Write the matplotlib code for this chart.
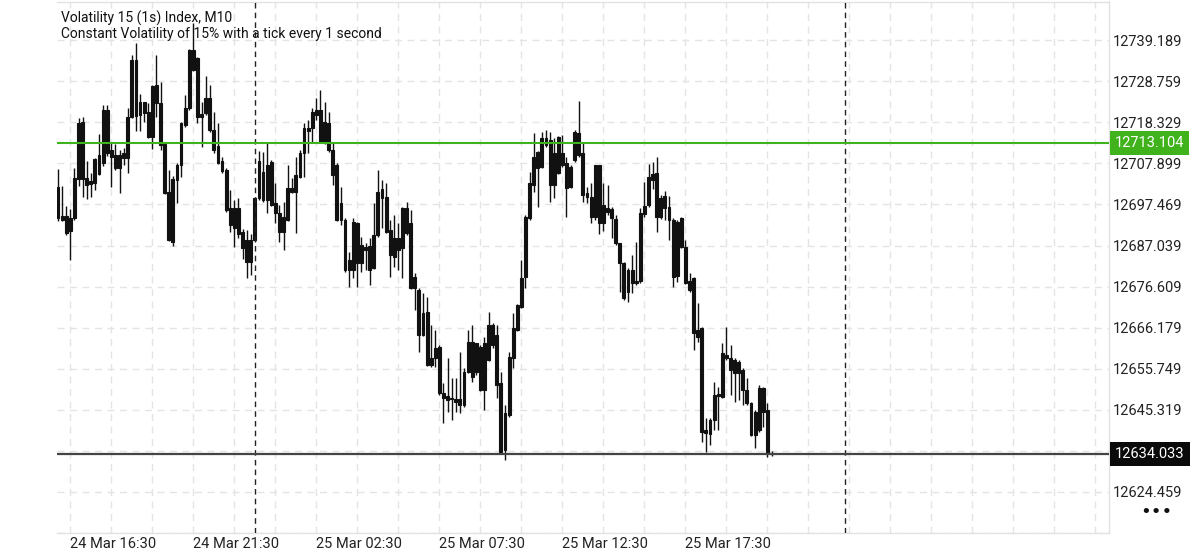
import matplotlib.pyplot as plt
import numpy as np
import pandas as pd

plt.rcParams['font.family'] = ['Roboto', 'DejaVu Sans']

# M10 candles, 24 Mar 16:00 onwards
opens = [
    12701.91, 12693.52, 12694.54, 12690.73, 12694.03, 12703.95, 12718.44, 12704.20, 12702.68, 12702.93,
    12705.22, 12708.02, 12721.49, 12711.32, 12710.05, 12706.74, 12710.56, 12709.29, 12719.71, 12734.20,
    12720.22, 12723.53, 12720.98, 12714.63, 12727.85, 12723.27, 12712.85, 12700.64, 12687.93, 12703.69,
    12707.51, 12717.68, 12722.00, 12736.75, 12734.71, 12719.71, 12720.73, 12724.54, 12716.41, 12712.34,
    12708.52, 12706.24, 12696.57, 12691.49, 12696.57, 12690.47, 12688.44, 12682.84, 12688.44, 12699.12,
    12705.73, 12698.61, 12708.27, 12697.85, 12695.30, 12690.47, 12693.52, 12701.66, 12700.64, 12704.46,
    12710.56, 12716.91, 12716.91, 12720.22, 12721.49, 12713.36, 12718.19, 12711.32, 12707.51, 12693.52,
    12693.52, 12680.81, 12680.81, 12692.76, 12682.59, 12686.66, 12686.91, 12681.32, 12689.71, 12701.40,
    12699.37, 12690.98, 12684.11, 12688.95, 12686.40, 12696.57, 12692.76, 12676.23, 12675.72, 12664.28,
    12670.13, 12656.66, 12658.43, 12661.23, 12649.54, 12648.77, 12648.01, 12648.01, 12648.01, 12646.48,
    12654.88, 12662.50, 12654.88, 12661.23, 12650.30, 12657.93, 12666.83, 12664.28, 12652.08, 12635.04,
    12643.94, 12658.43, 12665.55, 12671.40, 12679.03, 12694.03, 12702.42, 12710.81, 12707.00, 12714.37,
    12713.86, 12702.42, 12705.47, 12710.56, 12708.02, 12701.91, 12708.78, 12715.64, 12710.56, 12700.39,
    12699.37, 12694.29, 12707.51, 12692.76, 12696.57, 12696.32, 12693.78, 12687.67, 12682.59, 12675.22,
    12680.81, 12677.50, 12678.01, 12695.05, 12697.34, 12703.69, 12705.47, 12694.29, 12699.63, 12696.83,
    12693.52, 12679.28, 12694.03, 12686.66, 12678.01, 12678.78, 12665.55, 12666.06, 12640.13, 12639.11,
    12642.67, 12648.77, 12648.52, 12659.20, 12658.43, 12654.62, 12657.42, 12655.38, 12650.30, 12646.99,
    12644.70, 12640.13, 12650.81, 12645.21, 12634.28,
]
highs = [
    12706.49, 12702.17, 12697.08, 12696.32, 12706.74, 12719.46, 12719.71, 12708.52, 12705.47, 12709.29,
    12715.39, 12722.76, 12722.76, 12713.36, 12712.85, 12711.32, 12711.83, 12722.00, 12735.48, 12738.53,
    12725.56, 12723.53, 12723.27, 12727.85, 12735.48, 12728.61, 12713.36, 12706.24, 12704.71, 12708.02,
    12718.44, 12725.31, 12737.00, 12743.61, 12734.97, 12723.53, 12730.14, 12727.85, 12720.98, 12718.19,
    12709.54, 12706.74, 12701.15, 12698.61, 12699.12, 12691.23, 12690.98, 12689.96, 12699.37, 12711.07,
    12710.81, 12713.10, 12708.78, 12702.93, 12697.34, 12698.10, 12707.51, 12704.20, 12709.54, 12711.32,
    12718.19, 12718.95, 12722.00, 12724.54, 12726.58, 12723.53, 12720.98, 12713.10, 12708.02, 12701.91,
    12694.03, 12685.39, 12694.03, 12693.01, 12689.20, 12687.67, 12688.95, 12697.85, 12706.24, 12703.69,
    12702.93, 12693.52, 12694.79, 12692.76, 12696.83, 12698.10, 12696.07, 12680.05, 12676.23, 12674.96,
    12673.94, 12666.83, 12665.55, 12661.74, 12652.08, 12658.43, 12653.35, 12653.35, 12659.96, 12655.89,
    12665.55, 12666.83, 12662.25, 12661.74, 12663.77, 12670.13, 12667.33, 12666.83, 12654.88, 12646.48,
    12659.96, 12669.88, 12672.16, 12683.35, 12694.79, 12705.73, 12715.64, 12711.07, 12715.90, 12716.41,
    12715.90, 12714.37, 12714.88, 12715.13, 12709.54, 12707.51, 12716.41, 12723.78, 12713.36, 12701.91,
    12702.93, 12707.60, 12707.60, 12702.93, 12702.42, 12696.83, 12694.79, 12687.80, 12682.84, 12681.32,
    12684.62, 12687.93, 12696.57, 12703.18, 12707.76, 12708.27, 12709.54, 12699.88, 12700.90, 12699.63,
    12694.03, 12693.52, 12694.20, 12688.44, 12680.05, 12679.03, 12672.42, 12666.32, 12643.18, 12643.18,
    12652.33, 12651.06, 12662.25, 12666.32, 12661.74, 12658.43, 12657.93, 12655.89, 12653.35, 12647.25,
    12645.21, 12651.57, 12651.06, 12646.99, 12634.79,
]
lows = [
    12693.27, 12693.27, 12689.71, 12683.35, 12693.52, 12702.17, 12699.37, 12698.86, 12699.37, 12701.15,
    12704.96, 12707.25, 12709.80, 12701.91, 12706.24, 12700.39, 12707.51, 12705.47, 12719.46, 12716.15,
    12716.15, 12718.44, 12714.37, 12711.58, 12719.71, 12711.32, 12700.20, 12688.18, 12686.91, 12697.85,
    12704.46, 12717.17, 12721.49, 12731.41, 12718.19, 12712.08, 12720.22, 12715.90, 12710.56, 12707.76,
    12705.47, 12695.56, 12690.47, 12686.66, 12688.95, 12683.61, 12678.78, 12679.54, 12687.93, 12698.61,
    12698.10, 12695.30, 12697.08, 12692.76, 12687.93, 12685.89, 12693.27, 12700.39, 12690.22, 12704.20,
    12704.46, 12710.56, 12713.36, 12718.95, 12713.10, 12712.85, 12710.81, 12702.42, 12693.27, 12692.25,
    12680.30, 12676.49, 12678.78, 12676.49, 12680.30, 12680.81, 12677.00, 12681.06, 12689.20, 12691.49,
    12690.22, 12679.03, 12681.57, 12680.81, 12678.78, 12689.71, 12675.98, 12670.64, 12659.96, 12664.03,
    12656.40, 12656.15, 12656.15, 12649.03, 12641.91, 12644.70, 12642.67, 12644.70, 12644.45, 12645.98,
    12654.62, 12652.33, 12654.11, 12650.04, 12645.21, 12657.67, 12660.98, 12648.26, 12634.28, 12632.50,
    12643.43, 12655.89, 12665.30, 12671.15, 12676.23, 12693.52, 12700.64, 12696.83, 12706.74, 12712.08,
    12698.10, 12699.12, 12705.22, 12707.00, 12694.29, 12701.66, 12708.27, 12709.54, 12698.10, 12697.85,
    12692.76, 12693.52, 12689.96, 12690.73, 12694.79, 12688.95, 12687.17, 12675.22, 12673.18, 12672.67,
    12674.96, 12677.00, 12677.50, 12694.29, 12696.83, 12701.40, 12690.47, 12693.78, 12693.52, 12688.44,
    12676.49, 12677.76, 12686.40, 12677.25, 12675.22, 12660.47, 12662.50, 12637.08, 12634.53, 12636.31,
    12640.13, 12640.13, 12648.26, 12657.93, 12649.03, 12647.25, 12647.76, 12646.48, 12646.48, 12638.60,
    12635.55, 12639.62, 12640.89, 12633.26, 12633.52,
]
closes = [
    12694.03, 12694.54, 12690.22, 12694.03, 12704.20, 12718.19, 12703.95, 12702.42, 12703.44, 12709.03,
    12710.05, 12721.49, 12710.56, 12709.54, 12706.74, 12710.05, 12709.29, 12719.71, 12734.20, 12719.97,
    12723.53, 12720.73, 12714.63, 12727.59, 12723.27, 12712.59, 12700.39, 12688.44, 12703.95, 12707.51,
    12718.19, 12722.00, 12736.75, 12731.66, 12719.71, 12720.47, 12724.54, 12716.41, 12711.32, 12708.02,
    12705.98, 12696.07, 12692.25, 12696.57, 12689.96, 12686.40, 12682.84, 12688.44, 12699.12, 12708.52,
    12698.61, 12707.51, 12697.34, 12695.30, 12690.47, 12694.29, 12701.66, 12700.64, 12704.96, 12710.56,
    12716.91, 12716.15, 12720.98, 12721.49, 12713.36, 12718.44, 12711.32, 12704.96, 12693.52, 12697.85,
    12680.81, 12683.35, 12693.01, 12682.59, 12687.17, 12685.89, 12680.81, 12689.71, 12700.64, 12699.12,
    12690.47, 12684.62, 12688.95, 12685.89, 12696.57, 12690.22, 12676.23, 12679.03, 12664.28, 12669.88,
    12656.66, 12658.43, 12660.98, 12649.54, 12648.26, 12647.76, 12648.26, 12647.25, 12646.48, 12654.88,
    12662.50, 12653.60, 12662.25, 12650.30, 12662.25, 12666.83, 12661.74, 12651.57, 12634.53, 12644.45,
    12658.69, 12666.06, 12671.91, 12678.78, 12694.29, 12702.93, 12709.54, 12706.74, 12714.37, 12712.59,
    12702.42, 12710.56, 12714.63, 12707.51, 12701.66, 12707.00, 12715.90, 12710.05, 12699.88, 12699.37,
    12694.29, 12707.51, 12692.76, 12697.34, 12695.56, 12694.03, 12687.67, 12682.59, 12673.69, 12680.81,
    12677.50, 12678.01, 12695.30, 12697.08, 12704.46, 12705.22, 12694.29, 12699.12, 12696.57, 12693.52,
    12679.03, 12693.01, 12686.66, 12677.50, 12675.72, 12664.79, 12663.77, 12639.62, 12639.37, 12642.67,
    12649.03, 12649.28, 12659.71, 12658.43, 12655.38, 12657.93, 12654.62, 12650.30, 12646.99, 12638.86,
    12638.86, 12650.81, 12644.70, 12634.28, 12634.033,
]

level_price = 12713.104
price_ticks = [12624.459, 12634.889, 12645.319, 12655.749, 12666.179, 12676.609,
               12687.039, 12697.469, 12707.899, 12718.329, 12728.759, 12739.189]
title_lines = ["Volatility 15 (1s) Index, M10",
               "Constant Volatility of 15% with a tick every 1 second"]

times = pd.date_range("2024-03-24 16:00", periods=len(closes), freq="10min")
idx = np.arange(len(closes))

candle_col = '#111111'
grid_col = '#e4e4e4'
green = '#3fb21c'

fig = plt.figure(figsize=(12, 5.54), dpi=100)
ax = fig.add_axes([57 / 1200, 21 / 554, 1052 / 1200, 531.5 / 554])

# grid
step = price_ticks[1] - price_ticks[0]
for y in np.arange(price_ticks[0] - step, price_ticks[-1] + 1.5 * step, step):
    ax.axhline(y, color=grid_col, lw=1, ls=(0, (5, 4)), zorder=0)
x_grid = np.arange(3, 257, 10)
for x in x_grid:
    ax.axvline(x, color=grid_col, lw=1, ls=(0, (5, 4)), zorder=0)

# candles
o = np.array(opens)
c = np.array(closes)
ax.vlines(idx, lows, highs, color=candle_col, lw=1.0, zorder=2)
ax.bar(idx, np.abs(c - o), bottom=np.minimum(o, c), width=0.7,
       color=candle_col, edgecolor=candle_col, linewidth=0.8, zorder=2)

# day separators
t0 = times[0]
for day in pd.date_range(times[0].normalize() + pd.Timedelta(days=1), periods=2, freq='D'):
    pos = (day - t0) / pd.Timedelta(minutes=10)
    ax.axvline(pos, color='#222222', lw=1, ls=(0, (4, 3)), zorder=3)

# price lines
ax.axhline(level_price, color=green, lw=1.5, zorder=4)
ax.axhline(closes[-1], color='#444444', lw=1.6, zorder=4)

ax.set_xlim(-0.25, 256.3)
ax.set_ylim(12613.94, 12613.94 + 531.5 / 3.933)

# y axis on the right
ax.yaxis.tick_right()
ax.set_yticks(price_ticks)
ax.set_yticklabels(['' if abs(v - closes[-1]) < 3 else f'{v:.3f}' for v in price_ticks])
ax.tick_params(axis='y', length=0, pad=3, labelsize=10.5, labelcolor='#222222')

# x axis labels every 30 bars, only where bars exist
xt = [i for i in range(3, len(closes), 30)]
ax.set_xticks(xt)
ax.set_xticklabels([times[i].strftime('%d %b %H:%M') for i in xt], ha='left')
ax.tick_params(axis='x', length=0, pad=3, labelsize=10.5, labelcolor='#222222')

for s in ['top', 'right', 'bottom']:
    ax.spines[s].set_color('#e2e2e2')
    ax.spines[s].set_linewidth(1)
ax.spines['left'].set_visible(False)

# price tags
tr = ax.get_yaxis_transform()
for price, col in [(level_price, green), (closes[-1], '#0a0a0a')]:
    ax.text(1.0057, price, f'{price:.3f}', transform=tr, ha='left', va='center',
            fontsize=10.5, color='white', clip_on=False,
            bbox=dict(boxstyle='square,pad=0.34', fc=col, ec='none'))

fig.text(61 / 1200, 1 - 18 / 554, title_lines[0], fontsize=10, color='#111111', va='center')
fig.text(61 / 1200, 1 - 34 / 554, title_lines[1], fontsize=10, color='#111111', va='center')
fig.text(1156 / 1200, 1 - 512 / 554, '•••', fontsize=13, color='#111111',
         ha='center', va='center', family='DejaVu Sans')

fig.savefig('out.png', dpi=100)
